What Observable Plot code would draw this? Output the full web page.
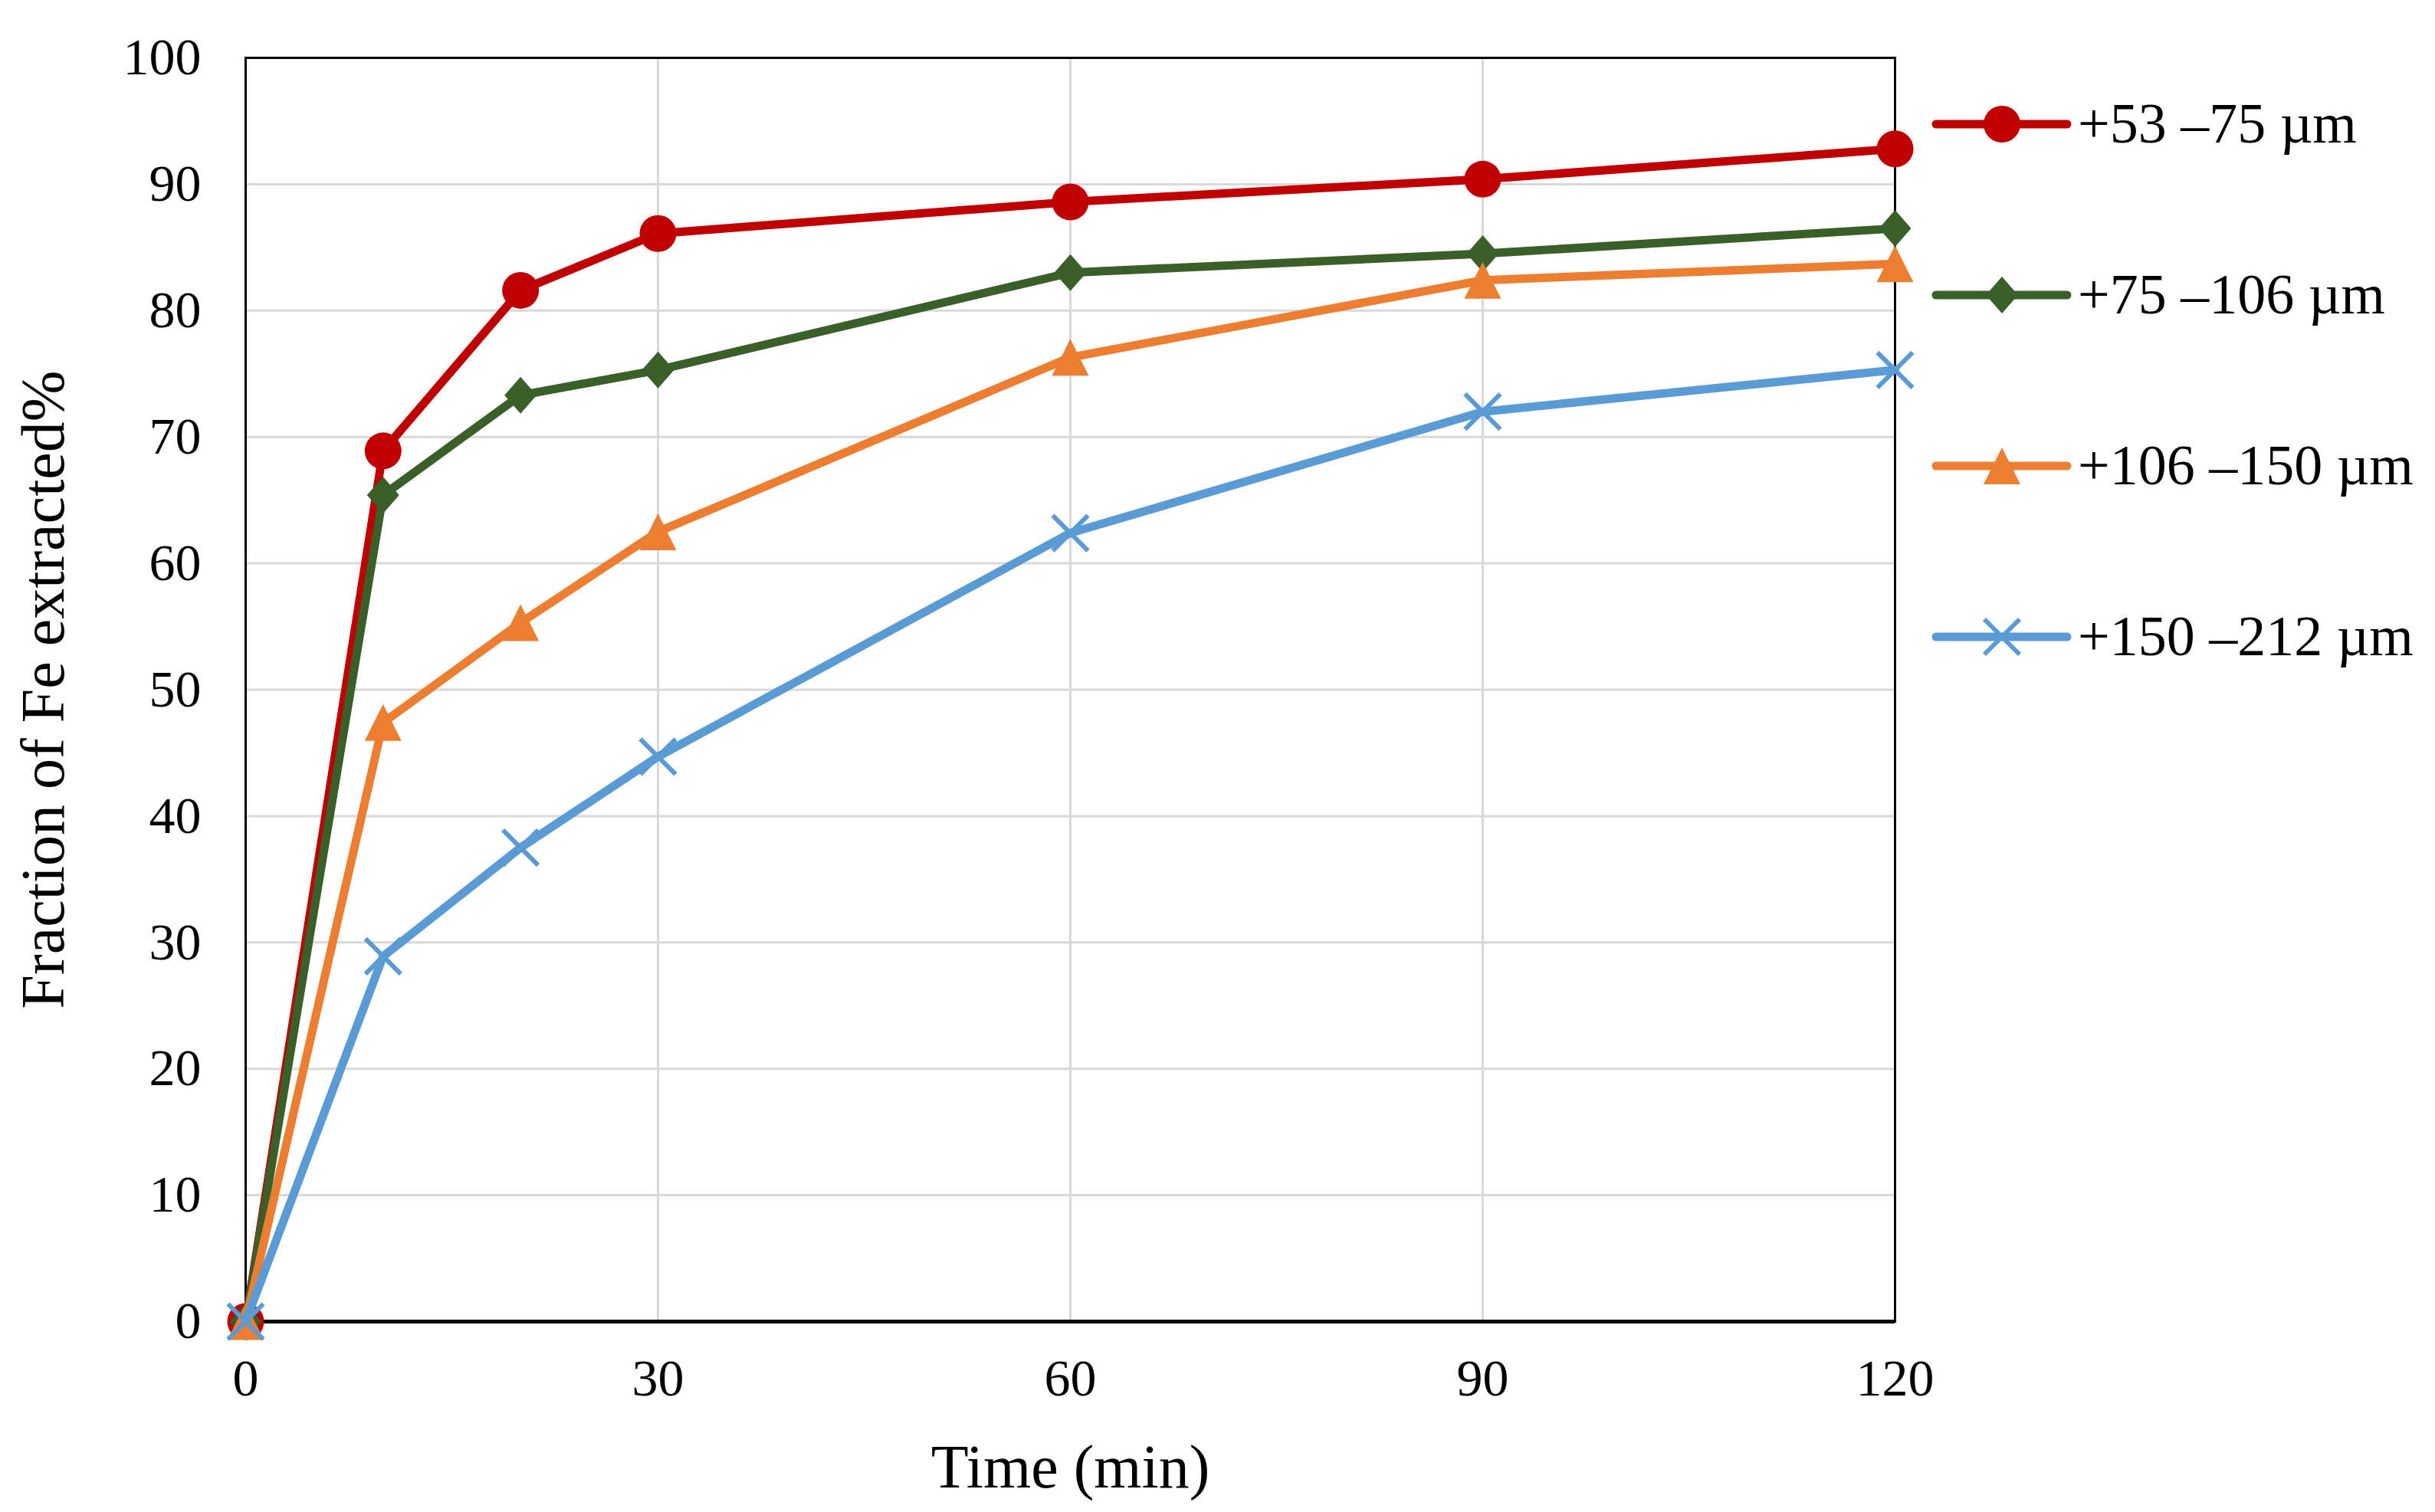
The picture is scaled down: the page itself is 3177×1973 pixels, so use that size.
<!DOCTYPE html>
<html>
<head>
<meta charset="utf-8">
<script src="https://cdn.jsdelivr.net/npm/d3@7"></script>
<script src="https://cdn.jsdelivr.net/npm/@observablehq/plot@0.6"></script>
<style>
  html, body { margin: 0; padding: 0; background: white; }
  #wrap { position: relative; width: 3177px; height: 1973px; }
  #legend { position: absolute; left: 0; top: 0; pointer-events: none; }
</style>
</head>
<body>
<div id="wrap"></div>
<script>
// ---- data ----
const times = [0, 10, 20, 30, 60, 90, 120];
const seriesNames = ["+53 –75 µm", "+75 –106 µm", "+106 –150 µm", "+150 –212 µm"];
const seriesColors = ["#C00000", "#3A5F29", "#ED7D31", "#5B9BD5"];
const seriesMarkers = ["circle", "diamond", "triangle", "times"];
const fe53_75 = [0, 68.9, 81.6, 86.1, 88.6, 90.4, 92.8];
const fe75_106 = [0, 65.4, 73.3, 75.3, 83.0, 84.5, 86.5];
const fe106_150 = [0, 47.4, 55.3, 62.5, 76.3, 82.4, 83.7];
const fe150_212 = [0, 28.9, 37.5, 44.7, 62.4, 72.0, 75.3];
const seriesValues = [fe53_75, fe75_106, fe106_150, fe150_212];
const xTicks = [0, 30, 60, 90, 120];
const yTicks = [0, 10, 20, 30, 40, 50, 60, 70, 80, 90, 100];
const xTitle = "Time (min)";
const yTitle = "Fraction of Fe extracted%";

// ---- marker shapes ----
const symbols = {
  circle: { draw(ctx) { ctx.moveTo(24, 0); ctx.arc(0, 0, 24, 0, 2 * Math.PI); ctx.closePath(); } },
  diamond: { draw(ctx) { ctx.moveTo(0, -24); ctx.lineTo(21, 0); ctx.lineTo(0, 24); ctx.lineTo(-21, 0); ctx.closePath(); } },
  triangle: { draw(ctx) { ctx.moveTo(0, -24); ctx.lineTo(24, 24); ctx.lineTo(-24, 24); ctx.closePath(); } },
  times: { draw(ctx) { ctx.moveTo(-23, -23); ctx.lineTo(23, 23); ctx.moveTo(23, -23); ctx.lineTo(-23, 23); } }
};

const rows = seriesNames.map((name, i) => times.map((t, j) => ({ series: name, time: t, value: seriesValues[i][j] })));

const font = "'Liberation Serif', 'Times New Roman', serif";

const marks = [
  Plot.gridX(xTicks, { stroke: "#D9D9D9", strokeOpacity: 1, strokeWidth: 3 }),
  Plot.gridY(yTicks, { stroke: "#D9D9D9", strokeOpacity: 1, strokeWidth: 3 }),
  Plot.frame({ stroke: "black", strokeWidth: 3 }),
  Plot.ruleY([0], { stroke: "black", strokeWidth: 5 }),
  Plot.text([yTitle], { frameAnchor: "left", dx: -263, rotate: -90, fontSize: 80, textAnchor: "middle", lineAnchor: "middle", fill: "black" }),
  Plot.text([xTitle], { frameAnchor: "bottom", dy: 191, fontSize: 80, textAnchor: "middle", lineAnchor: "middle", fill: "black" })
];
rows.forEach((data, i) => {
  const c = seriesColors[i];
  marks.push(Plot.line(data, { x: "time", y: "value", stroke: c, strokeWidth: 11, strokeLinejoin: "round", strokeLinecap: "round" }));
  const isStroke = seriesMarkers[i] === "times";
  marks.push(Plot.dot(data, {
    x: "time", y: "value", symbol: symbols[seriesMarkers[i]], r: 10,
    fill: isStroke ? "none" : c, stroke: isStroke ? c : "none", strokeWidth: isStroke ? 6 : 0
  }));
});

const chart = Plot.plot({
  width: 3177, height: 1973,
  marginLeft: 320, marginRight: 705, marginTop: 75, marginBottom: 249,
  style: { fontFamily: font, fontSize: "68px", background: "white", color: "black" },
  x: { domain: [0, 120], ticks: xTicks, tickSize: 0, tickPadding: 48, label: null },
  y: { domain: [0, 100], ticks: yTicks, tickSize: 0, tickPadding: 58, label: null },
  marks
});
document.getElementById("wrap").appendChild(chart);

// ---- legend ----
const legendX0 = 2526, legendX1 = 2697, legendMarkX = 2612, legendTextX = 2711;
const legendY = [162, 385, 608, 831];
const svg = d3.select("#wrap").append("svg").attr("id", "legend").attr("width", 3177).attr("height", 1973);
seriesNames.forEach((name, i) => {
  const g = svg.append("g").attr("transform", `translate(0,${legendY[i]})`);
  const c = seriesColors[i];
  g.append("line").attr("x1", legendX0).attr("x2", legendX1).attr("y1", 0).attr("y2", 0)
    .attr("stroke", c).attr("stroke-width", 11).attr("stroke-linecap", "round");
  const p = d3.path();
  symbols[seriesMarkers[i]].draw(p);
  const isStroke = seriesMarkers[i] === "times";
  g.append("path").attr("transform", `translate(${legendMarkX},0)`).attr("d", p.toString())
    .attr("fill", isStroke ? "none" : c).attr("stroke", isStroke ? c : "none").attr("stroke-width", isStroke ? 6 : 0);
  g.append("text").attr("x", legendTextX).attr("y", 0).attr("dy", "0.33em")
    .attr("font-family", font).attr("font-size", 74).attr("fill", "black").text(name);
});
</script>
</body>
</html>
